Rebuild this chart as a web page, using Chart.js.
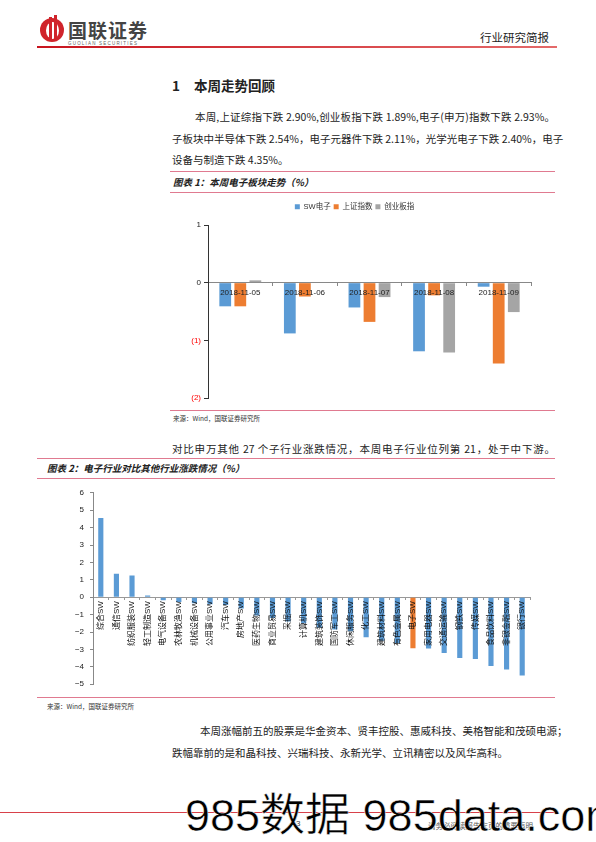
<!DOCTYPE html>
<html>
<head>
<meta charset="utf-8">
<script src="https://cdn.jsdelivr.net/npm/chart.js@4/dist/chart.umd.min.js"></script>
<style>
  body { margin: 0; width: 596px; height: 842px; position: relative; background: #fff; overflow: hidden;
         font-family: "Noto Sans CJK SC", "Liberation Sans", sans-serif; color: #222; }
  .abs { position: absolute; white-space: nowrap; }
  .line { position: absolute; height: 1px; background: #e07a90; }
  .just { text-align: justify; text-align-last: justify; }
  .body { font-size: 10.5px; line-height: 14px; color: #222; }
  .ttl { font-size: 9.5px; font-weight: bold; font-style: italic; line-height: 12px; }
  .src { font-size: 6.5px; line-height: 8px; color: #333; }
</style>
</head>
<body>
<!-- header -->
<div class="abs" style="left:40px;top:15px;width:24px;height:30px;">
  <div style="position:absolute;left:0;top:3px;width:24px;height:24px;border-radius:50%;background:#d0242b;"></div>
  <div style="position:absolute;left:6px;top:7px;width:13px;height:17px;border-radius:50%;background:#fff;"></div>
  <div style="position:absolute;left:9px;top:2px;width:3px;height:22px;background:#d0242b;"></div>
  <div style="position:absolute;left:14px;top:0px;width:3px;height:24px;background:#d0242b;"></div>
</div>
<div class="abs" style="left:68px;top:16px;font-size:19px;font-weight:bold;color:#444;letter-spacing:1px;">国联证券</div>
<div class="abs" style="left:68px;top:41px;font-size:4.5px;color:#666;font-family:'Liberation Sans';letter-spacing:1.2px;">GUOLIAN SECURITIES</div>
<div class="abs" style="left:480px;top:29px;font-size:11.5px;color:#222;">行业研究简报</div>
<div class="abs" style="left:37px;top:46px;width:520px;height:2px;background:linear-gradient(90deg,#c8141e,#e46a6a);"></div>

<!-- section 1 -->
<div class="abs" style="left:172px;top:75px;font-size:13.5px;font-weight:bold;">1<span style="display:inline-block;width:14px"></span>本周走势回顾</div>
<div class="abs body just" style="left:195px;top:110px;width:360px;">本周,上证综指下跌 2.90%,创业板指下跌 1.89%,电子(申万)指数下跌 2.93%。</div>
<div class="abs body just" style="left:172px;top:132px;width:383px;">子板块中半导体下跌 2.54%，电子元器件下跌 2.11%，光学光电子下跌 2.40%，电子</div>
<div class="abs body" style="left:172px;top:153px;">设备与制造下跌 4.35%。</div>

<div class="line" style="left:170px;top:171px;width:385px;"></div>
<div class="abs ttl" style="left:173px;top:176px;">图表 1：本周电子板块走势（%）</div>
<div class="line" style="left:170px;top:192px;width:385px;"></div>
<canvas id="c1" class="abs" style="left:170px;top:196px;" width="385" height="210"></canvas>
<div class="line" style="left:170px;top:410px;width:385px;"></div>
<div class="abs src" style="left:173px;top:414px;">来源：Wind，国联证券研究所</div>

<div class="abs body just" style="left:172px;top:442px;width:383px;">对比申万其他 27 个子行业涨跌情况，本周电子行业位列第 21，处于中下游。</div>
<div class="line" style="left:37px;top:458px;width:518px;"></div>
<div class="abs ttl" style="left:47px;top:462px;">图表 2：电子行业对比其他行业涨跌情况（%）</div>
<div class="line" style="left:37px;top:478px;width:518px;"></div>
<canvas id="c2" class="abs" style="left:40px;top:482px;" width="515" height="213"></canvas>
<div class="line" style="left:37px;top:697px;width:518px;"></div>
<div class="abs src" style="left:47px;top:702px;">来源：Wind，国联证券研究所</div>

<div class="abs body just" style="left:200px;top:724px;width:365px;">本周涨幅前五的股票是华金资本、贤丰控股、惠威科技、美格智能和茂硕电源；</div>
<div class="abs body" style="left:172px;top:746px;">跌幅靠前的是和晶科技、兴瑞科技、永新光学、立讯精密以及风华高科。</div>

<!-- footer -->
<div class="abs" style="left:0px;top:812px;width:555px;height:1px;background:#d8414a;"></div>
<div class="abs" style="left:296px;top:819px;font-size:8px;color:#444;font-family:'Liberation Sans';">3</div>
<div class="abs" style="left:428px;top:820px;font-size:7.5px;color:#555;">请务必阅读报告末页的重要声明</div>
<div class="abs" style="left:185px;top:790px;font-size:45px;line-height:52px;font-family:'Liberation Sans','Noto Sans CJK SC';color:#000;-webkit-text-stroke:0.5px #fff;">985数据 985data.com</div>

<script>
// chart 1: weekly index moves
const days = ["2018-11-05", "2018-11-06", "2018-11-07", "2018-11-08", "2018-11-09"];
const swElec = [-0.41, -0.88, -0.43, -1.19, -0.07];
const shIndex = [-0.41, -0.24, -0.68, -0.22, -1.40];
const cyIndex = [0.04, 0.01, -0.25, -1.21, -0.51];

// chart 2: SW industries this week
const industries = ["综合SW", "通信SW", "纺织服装SW", "轻工制造SW", "电气设备SW", "农林牧渔SW", "机械设备SW",
  "公用事业SW", "汽车SW", "房地产SW", "医药生物SW", "商业贸易SW", "采掘SW", "计算机SW", "建筑装饰SW",
  "国防军工SW", "休闲服务SW", "化工SW", "建筑材料SW", "有色金属SW", "电子SW", "家用电器SW", "交通运输SW",
  "钢铁SW", "传媒SW", "食品饮料SW", "非银金融SW", "银行SW"];
const industryChg = [4.55, 1.35, 1.25, 0.1, -0.18, -0.28, -0.35, -0.4, -0.45, -0.65, -1.05, -1.2, -1.4, -1.5,
  -1.75, -1.85, -1.95, -2.3, -2.5, -2.65, -2.93, -2.95, -3.2, -3.5, -3.55, -3.95, -4.15, -4.5];

const blue = "#5b9bd5", orange = "#ed7d31", grey = "#a5a5a5";
const latin = "'Liberation Sans', 'Noto Sans CJK SC', sans-serif";

// give the legend a bit more room under it
const legendRoom = {
  id: "legendRoom",
  beforeInit(chart) {
    const fit = chart.legend.fit;
    chart.legend.fit = function () { fit.bind(chart.legend)(); this.height += 4.5; };
  }
};

new Chart(document.getElementById("c1"), {
  type: "bar",
  data: {
    labels: days,
    datasets: [
      { label: "SW电子", data: swElec, backgroundColor: blue },
      { label: "上证指数", data: shIndex, backgroundColor: orange },
      { label: "创业板指", data: cyIndex, backgroundColor: grey }
    ]
  },
  plugins: [legendRoom],
  options: {
    responsive: false,
    animation: false,
    categoryPercentage: 0.7,
    barPercentage: 0.78,
    layout: { padding: { left: 8, right: 24, top: 4, bottom: 8 } },
    plugins: {
      tooltip: { enabled: false },
      legend: {
        position: "top",
        labels: { boxWidth: 5, boxHeight: 5, padding: 3, color: "#333", font: { size: 7.5, family: latin } }
      }
    },
    scales: {
      x: {
        position: { y: 0 },
        grid: { drawOnChartArea: false, tickLength: 3, color: "#888" },
        border: { color: "#888" },
        ticks: { z: 1, maxRotation: 0, autoSkip: false, padding: 2, color: "#222", font: { size: 8, family: latin } }
      },
      y: {
        min: -2, max: 1,
        afterFit: s => { s.width = 30; },
        grid: { drawOnChartArea: false, tickLength: 4, color: "#333" },
        border: { color: "#333" },
        ticks: {
          stepSize: 1,
          padding: 3,
          font: { size: 8, family: latin },
          color: c => c.tick.value < 0 ? "#ff0000" : "#222",
          callback: v => v < 0 ? "(" + (-v) + ")" : v
        }
      }
    }
  }
});

new Chart(document.getElementById("c2"), {
  type: "bar",
  data: {
    labels: industries,
    datasets: [{
      data: industryChg,
      backgroundColor: industries.map(n => n === "电子SW" ? orange : blue)
    }]
  },
  options: {
    responsive: false,
    animation: false,
    categoryPercentage: 1,
    barPercentage: 0.33,
    layout: { padding: { left: 8, right: 25, top: 8, bottom: 10 } },
    plugins: { legend: { display: false }, tooltip: { enabled: false } },
    scales: {
      x: {
        position: { y: 0 },
        grid: { drawOnChartArea: false, tickLength: 2, color: "#999" },
        border: { color: "#999" },
        ticks: { z: 1, minRotation: 90, maxRotation: 90, autoSkip: false, padding: 2, color: "#111",
                 font: { size: 8, family: latin } }
      },
      y: {
        min: -5, max: 6,
        afterFit: s => { s.width = 45; },
        grid: { drawOnChartArea: false, tickLength: 3, color: "#888" },
        border: { color: "#888" },
        ticks: {
          stepSize: 1,
          padding: 6,
          color: "#222",
          font: { size: 8, family: latin },
          callback: v => v < 0 ? "\u2212" + (-v) : v
        }
      }
    }
  }
});
</script>
</body>
</html>
